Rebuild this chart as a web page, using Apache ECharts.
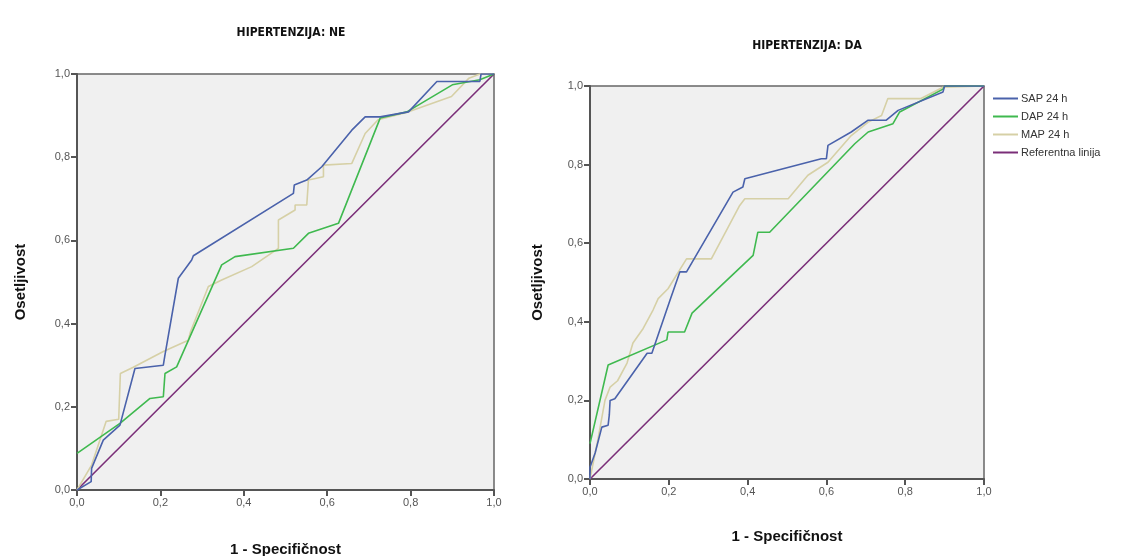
<!DOCTYPE html>
<html>
<head>
<meta charset="utf-8">
<title>ROC - hipertenzija</title>
<script src="https://cdn.jsdelivr.net/npm/echarts@6/dist/echarts.min.js"></script>
<style>
    html, body { margin: 0; padding: 0; background: #fff; }
    #chart { width: 1129px; height: 556px; }
</style>
</head>
<body>
<div id="chart"></div>
<script>
// tick labels (comma decimals, as in the original)
var tickValues = [0, 0.2, 0.4, 0.6, 0.8, 1.0];
var seriesNames = ['SAP 24 h', 'DAP 24 h', 'MAP 24 h', 'Referentna linija'];
var panelTitles = ['HIPERTENZIJA: NE', 'HIPERTENZIJA: DA'];

// HIPERTENZIJA: NE  -> [1 - specificnost, osetljivost]
var neSap = [[0, 0], [0.034, 0.02], [0.035, 0.052], [0.063, 0.12], [0.103, 0.156], [0.139, 0.292],
    [0.207, 0.30], [0.211, 0.325], [0.243, 0.509], [0.275, 0.553], [0.279, 0.563], [0.519, 0.713],
    [0.521, 0.733], [0.551, 0.745], [0.587, 0.777], [0.659, 0.865], [0.691, 0.897], [0.727, 0.897],
    [0.795, 0.909], [0.863, 0.982], [0.966, 0.982], [0.969, 1], [1, 1]];
var neDap = [[0, 0.088], [0.103, 0.16], [0.175, 0.22], [0.207, 0.224], [0.211, 0.28], [0.239, 0.296],
    [0.347, 0.541], [0.379, 0.561], [0.519, 0.581], [0.555, 0.617], [0.627, 0.641], [0.727, 0.894],
    [0.791, 0.909], [0.90, 0.974], [0.966, 0.986], [1, 1]];
var neMap = [[0, 0], [0.035, 0.06], [0.07, 0.165], [0.1, 0.17], [0.104, 0.28], [0.135, 0.295],
    [0.207, 0.333], [0.267, 0.36], [0.272, 0.38], [0.315, 0.489], [0.347, 0.505], [0.419, 0.537],
    [0.483, 0.581], [0.483, 0.649], [0.523, 0.673], [0.523, 0.685], [0.551, 0.685], [0.555, 0.745],
    [0.591, 0.753], [0.591, 0.781], [0.659, 0.785], [0.691, 0.857], [0.722, 0.89], [0.795, 0.909],
    [0.898, 0.946], [0.94, 0.99], [0.966, 1], [1, 1]];

// HIPERTENZIJA: DA
var daSap = [[0, 0], [0, 0.03], [0.013, 0.066], [0.03, 0.132], [0.046, 0.137], [0.049, 0.163],
    [0.051, 0.2], [0.063, 0.204], [0.145, 0.32], [0.157, 0.32], [0.203, 0.455], [0.228, 0.527],
    [0.245, 0.527], [0.363, 0.73], [0.388, 0.743], [0.393, 0.764], [0.587, 0.815], [0.6, 0.815],
    [0.604, 0.849], [0.663, 0.883], [0.706, 0.913], [0.752, 0.913], [0.782, 0.938], [0.896, 0.985],
    [0.9, 1], [1, 1]];
var daDap = [[0, 0.09], [0.046, 0.29], [0.195, 0.354], [0.198, 0.374], [0.24, 0.374], [0.259, 0.422],
    [0.414, 0.569], [0.426, 0.628], [0.456, 0.628], [0.672, 0.853], [0.706, 0.883], [0.769, 0.904],
    [0.786, 0.934], [0.896, 0.992], [0.9, 1], [1, 1]];
var daMap = [[0, 0], [0.02, 0.1], [0.038, 0.2], [0.051, 0.234], [0.07, 0.25], [0.094, 0.295],
    [0.109, 0.346], [0.135, 0.383], [0.16, 0.43], [0.173, 0.459], [0.198, 0.484], [0.245, 0.56],
    [0.308, 0.56], [0.38, 0.696], [0.393, 0.713], [0.503, 0.713], [0.553, 0.773], [0.604, 0.806],
    [0.663, 0.874], [0.706, 0.908], [0.74, 0.925], [0.756, 0.968], [0.84, 0.968], [0.896, 0.997],
    [1, 1]];
var refLine = [[0, 0], [1, 1]];

var colors = ['#4a62ab', '#3fb94f', '#d6d0a6', '#7a2e78'];
var fontMain = 'Liberation Sans, Arial, sans-serif';

function fmt(v) {
    return v.toFixed(1).replace('.', ',');
}

function makeXAxis(gridIndex, nameGap) {
    return {
        type: 'value', gridIndex: gridIndex, min: 0, max: 1, interval: 0.2,
        name: '1 - Specifičnost', nameLocation: 'middle', nameGap: nameGap,
        nameTextStyle: { fontFamily: fontMain, fontWeight: 'bold', fontSize: 15, color: '#111' },
        axisLine: { show: true, lineStyle: { color: '#555', width: 2 } },
        axisTick: { show: true, inside: false, length: 6, lineStyle: { color: '#555', width: 2 } },
        axisLabel: { formatter: fmt, fontFamily: fontMain, fontSize: 11, color: '#555', margin: 7 },
        splitLine: { show: false }
    };
}

function makeYAxis(gridIndex, nameGap) {
    return {
        type: 'value', gridIndex: gridIndex, min: 0, max: 1, interval: 0.2,
        name: 'Osetljivost', nameLocation: 'middle', nameGap: nameGap,
        nameTextStyle: { fontFamily: fontMain, fontWeight: 'bold', fontSize: 15, color: '#111' },
        axisLine: { show: true, lineStyle: { color: '#555', width: 2 } },
        axisTick: { show: true, inside: false, length: 6, lineStyle: { color: '#555', width: 2 } },
        axisLabel: { formatter: fmt, fontFamily: fontMain, fontSize: 11, color: '#555', margin: 7 },
        splitLine: { show: false }
    };
}

function makeLine(name, data, idx, color) {
    return {
        name: name, type: 'line', xAxisIndex: idx, yAxisIndex: idx,
        data: data, symbol: 'none', silent: true,
        lineStyle: { color: color, width: 1.6 },
        itemStyle: { color: color }
    };
}

var chart = echarts.init(document.getElementById('chart'));
var option = {
    animation: false,
    backgroundColor: '#fff',
    title: [
        { text: panelTitles[0], left: 286, top: 22, textAlign: 'center',
          textStyle: { fontFamily: 'Liberation Sans Narrow, DejaVu Sans Condensed, sans-serif', fontWeight: 'bold', fontSize: 12, color: '#111' } },
        { text: panelTitles[1], left: 802, top: 35, textAlign: 'center',
          textStyle: { fontFamily: 'Liberation Sans Narrow, DejaVu Sans Condensed, sans-serif', fontWeight: 'bold', fontSize: 12, color: '#111' } }
    ],
    legend: {
        orient: 'vertical', left: 988, top: 88,
        data: seriesNames,
        icon: 'rect', itemWidth: 25, itemHeight: 2, itemGap: 7,
        textStyle: { fontFamily: fontMain, fontSize: 11, color: '#333', padding: [0, 0, 0, -2] }
    },
    grid: [
        { left: 77, top: 74, width: 417, height: 416, outerBoundsMode: 'none', show: true, backgroundColor: '#f0f0f0', borderColor: '#666', borderWidth: 1.5 },
        { left: 590, top: 86, width: 394, height: 393, outerBoundsMode: 'none', show: true, backgroundColor: '#f0f0f0', borderColor: '#666', borderWidth: 1.5 }
    ],
    xAxis: [makeXAxis(0, 52), makeXAxis(1, 50)],
    yAxis: [makeYAxis(0, 49), makeYAxis(1, 45)],
    series: [
        makeLine(seriesNames[3], refLine, 0, colors[3]),
        makeLine(seriesNames[2], neMap, 0, colors[2]),
        makeLine(seriesNames[1], neDap, 0, colors[1]),
        makeLine(seriesNames[0], neSap, 0, colors[0]),
        makeLine(seriesNames[3], refLine, 1, colors[3]),
        makeLine(seriesNames[2], daMap, 1, colors[2]),
        makeLine(seriesNames[1], daDap, 1, colors[1]),
        makeLine(seriesNames[0], daSap, 1, colors[0])
    ]
};
chart.setOption(option);
</script>
</body>
</html>
